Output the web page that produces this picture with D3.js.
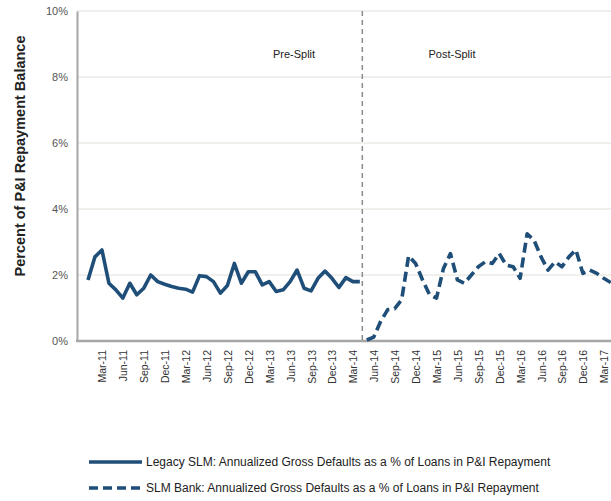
<!DOCTYPE html>
<html><head><meta charset="utf-8">
<script src="https://cdn.jsdelivr.net/npm/d3@7/dist/d3.min.js"></script>
<style>body{margin:0;background:#fff}svg{display:block;font-family:"Liberation Sans",Arial,sans-serif}</style>
</head><body><svg id="c" width="611" height="501"></svg>
<script>
const categories = [
"Jan-11","Feb-11","Mar-11","Apr-11","May-11","Jun-11","Jul-11","Aug-11","Sep-11","Oct-11","Nov-11","Dec-11",
"Jan-12","Feb-12","Mar-12","Apr-12","May-12","Jun-12","Jul-12","Aug-12","Sep-12","Oct-12","Nov-12","Dec-12",
"Jan-13","Feb-13","Mar-13","Apr-13","May-13","Jun-13","Jul-13","Aug-13","Sep-13","Oct-13","Nov-13","Dec-13",
"Jan-14","Feb-14","Mar-14","Apr-14","May-14","Jun-14","Jul-14","Aug-14","Sep-14","Oct-14","Nov-14","Dec-14",
"Jan-15","Feb-15","Mar-15","Apr-15","May-15","Jun-15","Jul-15","Aug-15","Sep-15","Oct-15","Nov-15","Dec-15",
"Jan-16","Feb-16","Mar-16","Apr-16","May-16","Jun-16","Jul-16","Aug-16","Sep-16","Oct-16","Nov-16","Dec-16",
"Jan-17","Feb-17","Mar-17","Apr-17"];
const legacyStart = "Jan-11";
const legacyValues = [1.85,2.55,2.76,1.75,1.55,1.3,1.75,1.4,1.6,2.0,
  1.8,1.72,1.65,1.6,1.57,1.48,1.98,1.95,1.8,1.45,
  1.68,2.35,1.75,2.1,2.1,1.7,1.8,1.5,1.55,1.8,
  2.15,1.6,1.52,1.9,2.12,1.9,1.62,1.92,1.8,1.8];
const bankStart = "May-14";
const bankValues = [0.03,0.12,0.6,0.95,0.98,1.25,2.58,2.35,1.85,1.4,
  1.3,2.2,2.65,1.85,1.75,2.0,2.25,2.4,2.35,2.65,
  2.3,2.25,1.9,3.25,3.05,2.55,2.15,2.4,2.25,2.55,
  2.76,2.05,2.15,2.05,1.9,1.77];
const tickLabels = ["Mar-11","Jun-11","Sep-11","Dec-11","Mar-12","Jun-12","Sep-12","Dec-12",
  "Mar-13","Jun-13","Sep-13","Dec-13","Mar-14","Jun-14","Sep-14","Dec-14",
  "Mar-15","Jun-15","Sep-15","Dec-15","Mar-16","Jun-16","Sep-16","Dec-16","Mar-17"];
const yTicks = [0,2,4,6,8,10];
const seriesNames = ["Legacy SLM: Annualized Gross Defaults as a % of Loans in P&I Repayment",
  "SLM Bank: Annualized Gross Defaults as a % of Loans in P&I Repayment"];
const phaseLabels = ["Pre-Split","Post-Split"];
const yTitle = "Percent of P&I Repayment  Balance";

(function(){
const svg = d3.select("#c");
const pL = 77, pR = 611, pT = 11, pB = 341;
const x = d3.scalePoint().domain(categories).range([88, 88 + 6.97*(categories.length-1)]);
const y = d3.scaleLinear().domain([0,10]).range([pB, pT]);
const color = "#1f4e79";

svg.append("g").selectAll("line").data(yTicks.filter(d=>d>0)).join("line")
  .attr("x1", pL).attr("x2", pR).attr("y1", d=>y(d)).attr("y2", d=>y(d))
  .attr("stroke", "#e3e0da").attr("stroke-width", 1);

const ya = svg.append("g").attr("transform", `translate(${pL},0)`)
  .call(d3.axisLeft(y).tickValues(yTicks).tickFormat(d=>d+"%").tickSize(0).tickPadding(9));
ya.select(".domain").attr("stroke", "#a6a6a6").attr("stroke-width", 2);
ya.selectAll("text").attr("font-size", 11).attr("fill", "#555").attr("font-family", "Liberation Sans, Arial, sans-serif");

const xa = svg.append("g").attr("transform", `translate(0,${pB})`)
  .call(d3.axisBottom(x).tickValues(tickLabels).tickSize(0));
xa.select(".domain").remove();
xa.selectAll("text").attr("font-size", 10.5).attr("fill", "#333")
  .attr("font-family", "Liberation Sans, Arial, sans-serif")
  .attr("text-anchor", "end").attr("dy", null).attr("y", 0)
  .attr("transform", "translate(4,9) rotate(-90)");
svg.append("line").attr("x1", pL-1).attr("x2", pR).attr("y1", pB).attr("y2", pB)
  .attr("stroke", "#a6a6a6").attr("stroke-width", 2.5);

const iSplit = categories.indexOf(bankStart);
const xs = (x(categories[iSplit-1]) + x(categories[iSplit]))/2 - 1;
svg.append("line").attr("x1", xs).attr("x2", xs).attr("y1", pT).attr("y2", pB)
  .attr("stroke", "#8c8c8c").attr("stroke-width", 1.5).attr("stroke-dasharray", "5,4");

svg.append("text").attr("x", 294).attr("y", 58).attr("text-anchor", "middle")
  .attr("font-size", 11).attr("fill", "#222").text(phaseLabels[0]);
svg.append("text").attr("x", 452).attr("y", 58).attr("text-anchor", "middle")
  .attr("font-size", 11).attr("fill", "#222").text(phaseLabels[1]);

const line = d3.line().x(d=>x(d.c)).y(d=>y(d.v));
const i0 = categories.indexOf(legacyStart);
const legacy = legacyValues.map((v,i)=>({c:categories[i0+i], v}));
const bank = bankValues.map((v,i)=>({c:categories[iSplit+i], v}));
svg.append("path").datum(legacy).attr("d", line).attr("fill","none")
  .attr("stroke", color).attr("stroke-width", 3.6).attr("stroke-linejoin","round");
svg.append("path").datum(bank).attr("d", line).attr("fill","none")
  .attr("stroke", color).attr("stroke-width", 3.6).attr("stroke-linejoin","round")
  .attr("stroke-dasharray", "10,5");

svg.append("text").attr("transform", "translate(25,156) rotate(-90)")
  .attr("text-anchor", "middle").attr("font-size", 14.5).attr("font-weight", "bold")
  .attr("fill", "#222").text(yTitle);

const lg = svg.append("g");
[0,1].forEach(i=>{
  const ly = 462 + i*26;
  lg.append("line").attr("x1", 89).attr("x2", 142).attr("y1", ly).attr("y2", ly)
    .attr("stroke", color).attr("stroke-width", 3.6)
    .attr("stroke-dasharray", i ? "9,5" : null);
  lg.append("text").attr("x", 146).attr("y", ly+4).attr("font-size", 12)
    .attr("fill", "#222").text(seriesNames[i]);
});
})();
</script></body></html>
